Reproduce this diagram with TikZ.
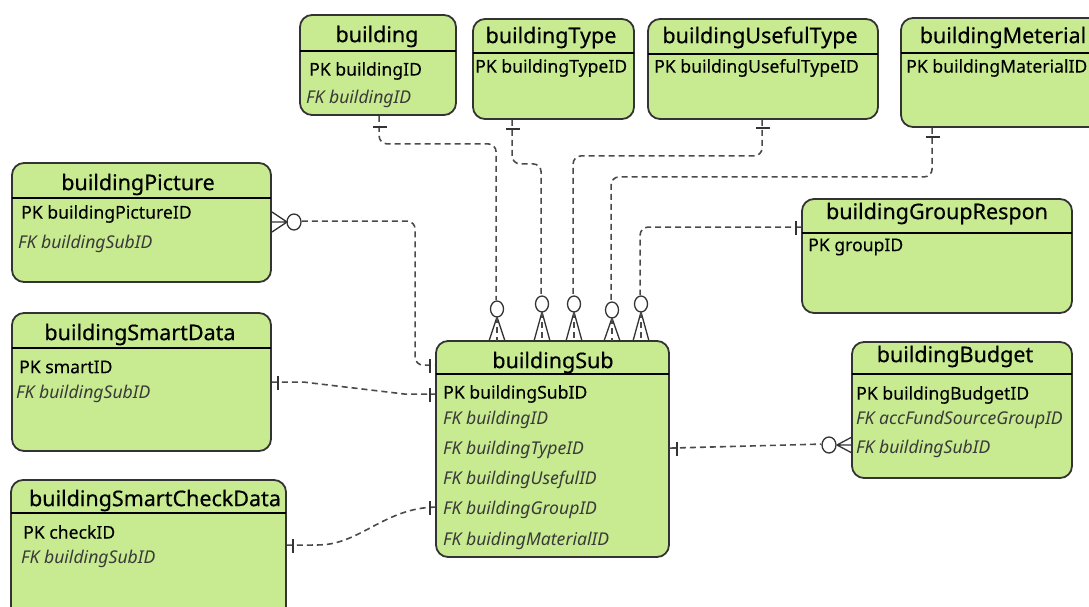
\documentclass[tikz,border=0pt]{standalone}
\usepackage{fontspec}
\setmainfont{Noto Sans}
\newfontfamily\medfont[FakeBold=0.5]{Noto Sans}
\newfontfamily\pkfont[FakeBold=0.25]{Noto Sans}
\usetikzlibrary{calc}
\definecolor{boxfill}{HTML}{C8EB91}
\definecolor{boxline}{HTML}{333333}
\definecolor{fkgray}{HTML}{3A3A3A}
\definecolor{lnk}{HTML}{4A4A4A}
\definecolor{mkc}{HTML}{333333}
\tikzset{
 ebox/.style={draw=boxline, line width=1.8pt, fill=boxfill, rounded corners=12pt, inner sep=0pt},
 hdr/.style={line width=2pt, draw=black},
 ttl/.style={font=\medfont\fontsize{21.5}{25}\selectfont, inner sep=0pt, anchor=center},
 pkf/.style={font=\pkfont\fontsize{17.6}{20}\selectfont, inner sep=0pt, anchor=west, text=black},
 fkf/.style={font=\fontsize{17.6}{20}\selectfont\itshape, inner sep=0pt, anchor=west, text=fkgray},
 conn/.style={draw=lnk, line width=1.6pt, dash pattern=on 6pt off 4pt, rounded corners=8pt},
 mk/.style={draw=mkc, line width=1.3pt},
}
\newcommand\entbox[6]{%
 \node[ebox, minimum width={#4-#2}, minimum height={#5-#3}] (#1) at ({(#2+#4)/2},{(#3+#5)/2}) {};
 \draw[hdr] (#2,#6) -- (#4,#6);
}
% zero-or-many pointing down onto buildingSub top (y=341)
\newcommand\ozmdown[2]{%
 \draw[mk, fill=white] (#1,#2) circle[x radius=6.5pt, y radius=8pt];
 \draw[mk] (#1,#2+8) -- (#1-8,341) (#1,#2+8) -- (#1+8,341);
 \draw[conn] (#1,#2+8) -- (#1,341);
}
\newcommand\onebarh[2]{\draw[mk] (#1-7,#2) -- (#1+7,#2);}
\newcommand\onebarv[2]{\draw[mk] (#1,#2-7) -- (#1,#2+7);}
\begin{document}
\begin{tikzpicture}[x=1pt,y=-1pt]
\useasboundingbox (0,0) rectangle (1089,607);
\begin{scope}
\clip (0,0) rectangle (1089,607);
% entities
\entbox{bld}{300}{15}{456}{115}{51}
\entbox{btype}{473}{19}{634}{119}{53}
\entbox{buse}{648}{19}{878}{119}{54}
\entbox{bmat}{901}{18}{1105}{127}{53}
\entbox{bpic}{12}{163}{271}{282}{198}
\entbox{bsd}{12}{313}{271}{451}{348}
\entbox{bscd}{11}{480}{286}{625}{513}
\entbox{sub}{436}{341}{669}{557}{374}
\entbox{bgr}{802}{199}{1072}{313}{233}
\entbox{bbud}{852}{342}{1072}{478}{374}
\end{scope}
% titles
\node[ttl] (t-bld) at (377,36.5) {building};
\node[ttl] (t-btype) at (551,37.5) {buildingType};
\node[ttl] (t-buse) at (760,37.5) {buildingUsefulType};
\node[ttl] (t-bmat) at (1003,37.5) {buildingMeterial};
\node[ttl] (t-bpic) at (138,184.5) {buildingPicture};
\node[ttl] (t-bsd) at (140,334.5) {buildingSmartData};
\node[ttl] (t-bscd) at (155,500.5) {buildingSmartCheckData};
\node[ttl] (t-sub) at (553,362.5) {buildingSub};
\node[ttl] (t-bgr) at (937,213.5) {buildingGroupRespon};
\node[ttl] (t-bbud) at (955,356.5) {buildingBudget};
% fields
\node[pkf] (f-bld1) at (309,71) {PK buildingID};
\node[fkf] (f-bld2) at (306,99) {FK buildingID};
\node[pkf] (f-btype1) at (475,68) {PK buildingTypeID};
\node[pkf] (f-buse1) at (654,68) {PK buildingUsefulTypeID};
\node[pkf] (f-bmat1) at (906,68) {PK buildingMaterialID};
\node[pkf] (f-bpic1) at (21,214) {PK buildingPictureID};
\node[fkf] (f-bpic2) at (18,244) {FK buildingSubID};
\node[pkf] (f-bsd1) at (19,367) {PK smartID};
\node[fkf] (f-bsd2) at (16,394) {FK buildingSubID};
\node[pkf] (f-bscd1) at (23,532) {PK checkID};
\node[fkf] (f-bscd2) at (21,559) {FK buildingSubID};
\node[pkf] (f-sub1) at (443,394) {PK buildingSubID};
\node[fkf] (f-sub2) at (443,420) {FK buildingID};
\node[fkf] (f-sub3) at (443,450) {FK buildingTypeID};
\node[fkf] (f-sub4) at (443,480) {FK buildingUsefulID};
\node[fkf] (f-sub5) at (443,510) {FK buildingGroupID};
\node[fkf] (f-sub6) at (443,541) {FK buidingMaterialID};
\node[pkf] (f-bgr1) at (808,247) {PK groupID};
\node[pkf] (f-bbud1) at (856,395) {PK buildingBudgetID};
\node[fkf] (f-bbud2) at (856,420) {FK accFundSourceGroupID};
\node[fkf] (f-bbud3) at (856,449) {FK buildingSubID};
% connector anchor coordinates
\coordinate (a1) at ($(bld.south west)+(80,0)$);
\coordinate (a2) at ($(btype.south west)+(40,0)$);
\coordinate (a3) at ($(buse.south west)+(115,0)$);
\coordinate (a4) at ($(bmat.south west)+(32,0)$);
\coordinate (a5) at ($(bgr.north west)+(0,29)$);
\coordinate (s1) at ($(sub.north west)+(61,-40)$);
\coordinate (s2) at ($(sub.north west)+(106,-45)$);
\coordinate (s3) at ($(sub.north west)+(138,-45)$);
\coordinate (s4) at ($(sub.north west)+(176,-39)$);
\coordinate (s5) at ($(sub.north west)+(205,-45)$);
% building -> buildingSub
\draw[conn] (a1) -- ++(0,28) -| (s1);
\onebarh{380}{127}
\ozmdown{497}{309}
% buildingType -> buildingSub
\draw[conn] (a2) -- ++(0,44) -| (s2);
\onebarh{513}{129}
\ozmdown{542}{304}
% buildingUsefulType -> buildingSub
\draw[conn] (a3) -- ++(0,36) -| (s3);
\onebarh{763}{128}
\ozmdown{574}{304}
% buildingMeterial -> buildingSub
\draw[conn] (a4) -- ++(0,49) -| (s4);
\onebarh{933}{137}
\ozmdown{612}{310}
% buildingGroupRespon -> buildingSub
\draw[conn] (a5) -| (s5);
\onebarv{796}{228}
\ozmdown{641}{304}
% buildingPicture -> buildingSub
\coordinate (p1) at ($(bpic.north east)+(30,59)$);
\coordinate (p2) at ($(sub.north west)+(0,25)$);
\draw[conn] (p1) -| ($(p2)+(-20,0)$) -- (p2);
\onebarv{430}{366}
\draw[mk, fill=white] (294,222) circle[x radius=7pt, y radius=8pt];
\draw[mk] (287,222) -- (272,212) (287,222) -- (272,232) (287,222) -- (272,222);
% buildingSmartData -> buildingSub
\coordinate (q1) at ($(bsd.north east)+(0,70)$);
\coordinate (q2) at ($(sub.north west)+(0,54)$);
\draw[conn, rounded corners=0pt] (q1) -- ++(32,0) -- ($(q2)+(-30,0)$) -- (q2);
\onebarv{278}{383}
\onebarv{430}{395}
% buildingSmartCheckData -> buildingSub
\coordinate (r1) at ($(bscd.north east)+(0,66)$);
\coordinate (r2) at ($(sub.north west)+(0,167)$);
\draw[conn] (r1) -- ++(25,0) .. controls (360,544) and (385,508) .. (r2);
\onebarv{293}{546}
\onebarv{430}{508}
% buildingSub -> buildingBudget
\coordinate (b1) at ($(sub.north east)+(0,108)$);
\coordinate (b2) at ($(bbud.north west)+(-30,103)$);
\draw[conn] (b1) -- (b2);
\onebarv{677}{449}
\draw[mk, fill=white] (829,445) circle[x radius=7pt, y radius=8pt];
\draw[mk] (837,445) -- (852,437) (837,445) -- (852,453) (837,445) -- (852,445);
\end{tikzpicture}
\end{document}
